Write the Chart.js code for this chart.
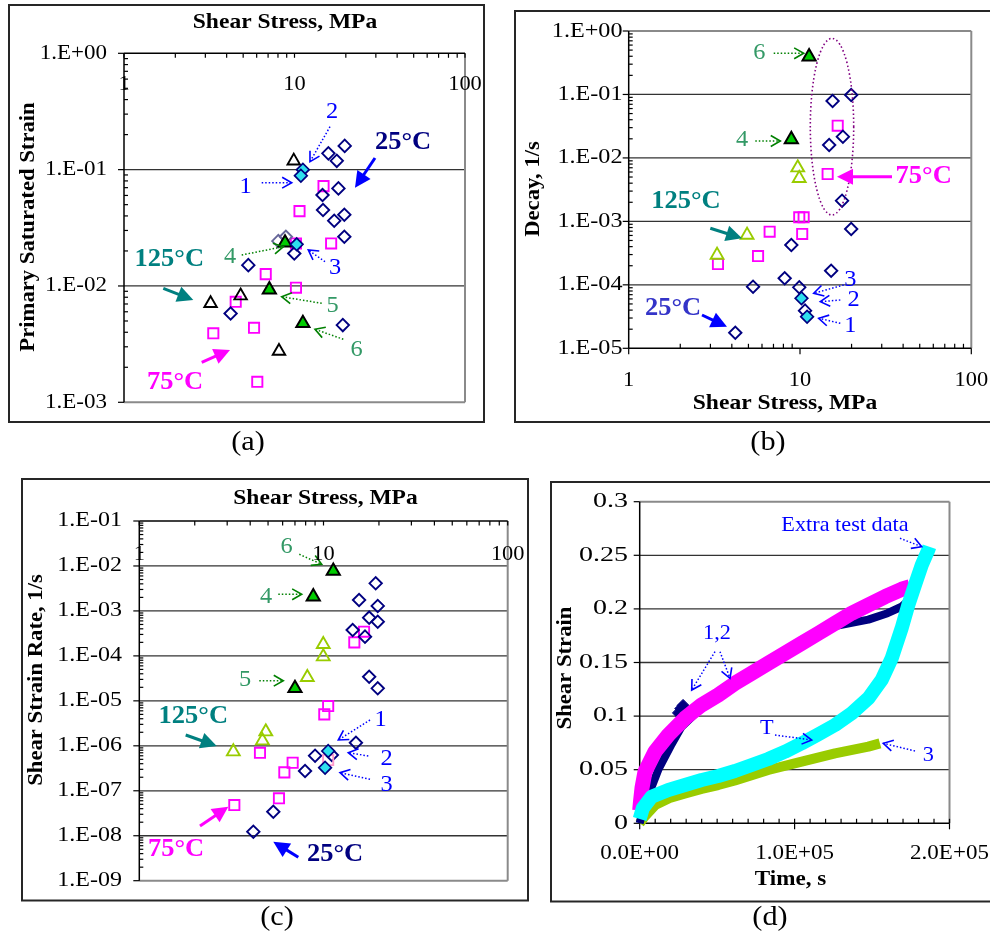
<!DOCTYPE html>
<html><head><meta charset="utf-8">
<script src="https://cdn.jsdelivr.net/npm/chart.js@4.4.1/dist/chart.umd.min.js"></script>
<style>
html,body{margin:0;padding:0;background:#fff;}
body{width:990px;height:938px;position:relative;overflow:hidden;}
canvas{position:absolute;left:0;top:0;}
</style></head><body>
<canvas id="ca" width="990" height="938"></canvas>
<canvas id="cb" width="990" height="938"></canvas>
<canvas id="cc" width="990" height="938"></canvas>
<canvas id="cd" width="990" height="938"></canvas>
<script>
// ---------------- DATA ----------------
// tick labels
const stressTickVals = [1, 10, 100];
const stressTickLabels = ['1', '10', '100'];
const aYTickVals = [1e-3, 1e-2, 1e-1, 1];
const aYTickLabels = ['1.E-03', '1.E-02', '1.E-01', '1.E+00'];
const bYTickVals = [1e-5, 1e-4, 1e-3, 1e-2, 1e-1, 1];
const bYTickLabels = ['1.E-05', '1.E-04', '1.E-03', '1.E-02', '1.E-01', '1.E+00'];
const cYTickVals = [1e-9, 1e-8, 1e-7, 1e-6, 1e-5, 1e-4, 1e-3, 1e-2, 1e-1];
const cYTickLabels = ['1.E-09', '1.E-08', '1.E-07', '1.E-06', '1.E-05', '1.E-04', '1.E-03', '1.E-02', '1.E-01'];
const dYTickVals = [0, 0.05, 0.1, 0.15, 0.2, 0.25, 0.3];
const dYTickLabels = ['0', '0.05', '0.1', '0.15', '0.2', '0.25', '0.3'];
const dXTickVals = [0, 100000, 200000];
const dXTickLabels = ['0.0E+00', '1.0E+05', '2.0E+05'];

// (a) Primary saturated strain vs shear stress
const aNavyX = [15.8, 17.7, 19.7, 14.6, 18.1, 14.7, 19.6, 17.1, 19.6, 9.97, 5.36, 4.22, 19.2];
const aNavyY = [0.138, 0.119, 0.16, 0.0605, 0.069, 0.045, 0.041, 0.0364, 0.0265, 0.019, 0.0151, 0.0058, 0.00461];
const aCyanX = [11.2, 10.9, 10.3];
const aCyanY = [0.1, 0.0887, 0.0228];
const aGrayX = [8.04, 8.9];
const aGrayY = [0.0243, 0.0265];
const aMagX = [14.8, 10.7, 10.2, 16.4, 6.78, 10.2, 4.52, 3.34, 5.79, 6.05];
const aMagY = [0.0722, 0.044, 0.0232, 0.0232, 0.01265, 0.00966, 0.00731, 0.00392, 0.00437, 0.0015];
const aBlackX = [9.9, 4.83, 3.22, 8.11];
const aBlackY = [0.119, 0.00824, 0.00708, 0.00275];
const aGreenX = [8.8, 7.12, 11.2];
const aGreenY = [0.0235, 0.0093, 0.00478];

// (b) Decay vs shear stress
const bNavyX = [15.5, 19.9, 17.8, 14.8, 17.6, 19.9, 8.9, 15.2, 8.14, 9.9, 5.32, 4.19, 10.7];
const bNavyY = [0.0788, 0.098, 0.0216, 0.016, 0.00212, 7.58e-4, 4.24e-4, 1.67e-4, 1.27e-4, 9.14e-5, 9.35e-5, 1.76e-5, 3.92e-5];
const bCyanX = [10.2, 11.0];
const bCyanY = [6.14e-5, 3.15e-5];
const bMagX = [16.6, 14.5, 9.9, 10.5, 10.3, 6.65, 5.69, 3.32];
const bMagY = [0.0322, 0.00558, 1.16e-3, 1.16e-3, 6.33e-4, 6.88e-4, 2.84e-4, 2.13e-4];
const bYgX = [9.7, 9.9, 4.91, 3.28];
const bYgY = [0.00701, 0.00478, 6.1e-4, 2.95e-4];
const bGreenX = [11.3, 8.9];
const bGreenY = [0.394, 0.0196];

// (c) Shear strain rate vs shear stress
const cNavyX = [19.2, 15.6, 19.7, 17.7, 19.7, 14.4, 16.8, 17.7, 19.7, 15.0, 9.0, 11.1, 7.94, 5.34, 4.16];
const cNavyY = [4.11e-3, 1.75e-3, 1.29e-3, 7.08e-4, 5.76e-4, 3.77e-4, 2.68e-4, 3.44e-5, 1.9e-5, 1.17e-6, 6.03e-7, 6.24e-7, 2.75e-7, 3.42e-8, 1.23e-8];
const cCyanX = [10.6, 10.2];
const cCyanY = [7.66e-7, 3.26e-7];
const cPinkX = [10.6];
const cPinkY = [4.83e-7];
const cMagX = [16.6, 14.7, 10.6, 10.1, 4.52, 6.8, 6.13, 5.73, 3.28];
const cMagY = [3.45e-4, 2.0e-4, 7.67e-6, 5.0e-6, 7.0e-7, 4.2e-7, 2.57e-7, 6.8e-8, 4.82e-8];
const cYgX = [9.97, 9.97, 8.17, 4.86, 4.66, 3.24];
const cYgY = [1.81e-4, 9.6e-5, 3.33e-5, 2.06e-6, 1.3e-6, 7.41e-7];
const cGreenX = [11.3, 8.8, 7.0];
const cGreenY = [7.72e-3, 2.07e-3, 1.9e-5];

// (d) Shear strain vs time
const dMagT = [0, 500, 1500, 3400, 9900, 18500, 29200, 40000, 50700, 61500, 72300, 83000, 93800, 104600, 115300, 126100, 136900, 147600, 158400, 169100, 174500];
const dMagS = [0.012, 0.02, 0.033, 0.048, 0.0668, 0.0824, 0.098, 0.1104, 0.1197, 0.1306, 0.140, 0.1493, 0.1586, 0.168, 0.1772, 0.1866, 0.196, 0.2036, 0.2114, 0.2183, 0.2207];
const dNavyT = [0, 2000, 5600, 12000, 20700, 27000, 40000, 61500, 83000, 104600, 126100, 147600, 160000, 169000, 173000];
const dNavyS = [0, 0.012, 0.026, 0.050, 0.074, 0.090, 0.108, 0.128, 0.149, 0.168, 0.184, 0.190, 0.196, 0.202, 0.207];
const dNavyBlobT = [25000, 26500, 28000];
const dNavyBlobS = [0.103, 0.107, 0.110];
const dCyanT = [0, 2000, 7700, 18500, 29200, 40000, 50700, 61500, 72300, 83000, 93800, 104600, 115300, 126100, 136900, 147600, 156200, 162700, 169100, 173400, 177700, 182100, 186300, 187000];
const dCyanS = [0.004, 0.014, 0.0248, 0.0311, 0.0357, 0.0404, 0.0441, 0.0488, 0.0544, 0.06, 0.0668, 0.0746, 0.083, 0.0917, 0.1026, 0.1166, 0.1337, 0.1539, 0.1819, 0.2036, 0.2223, 0.241, 0.255, 0.258];
const dYgT = [0, 3000, 10000, 20000, 30000, 40000, 50700, 61500, 83000, 104600, 126100, 147600, 155100];
const dYgS = [0, 0.006, 0.017, 0.024, 0.028, 0.032, 0.0357, 0.04, 0.0497, 0.0575, 0.0653, 0.0715, 0.0746];

// ---------------- STYLE / HELPERS ----------------
const SERIF = '"Liberation Serif","Times New Roman",Times,serif';
const BLUE = '#0000ff', NAVY = '#000080', TEAL = '#008080', MAG = '#ff00ff', GTXT = '#339966', GARR = '#008000';
const NONE = 'rgba(0,0,0,0)';

function pts(xs, ys) { return xs.map((x, i) => ({x: x, y: ys[i]})); }

function text(ctx, s, x, y, o) {
  o = o || {};
  ctx.save();
  ctx.font = (o.bold ? 'bold ' : '') + (o.size || 20) + 'px ' + SERIF;
  ctx.fillStyle = o.color || '#000';
  ctx.textAlign = o.align || 'center';
  ctx.textBaseline = 'middle';
  ctx.translate(x, y);
  if (o.rot) ctx.rotate(o.rot);
  ctx.scale(o.sx || 1, 1);
  ctx.fillText(s, 0, 0);
  ctx.restore();
}

function arrow(ctx, x1, y1, x2, y2, color, filled) {
  const a = Math.atan2(y2 - y1, x2 - x1);
  const c = Math.cos(a), s = Math.sin(a);
  ctx.save();
  ctx.strokeStyle = color; ctx.fillStyle = color;
  if (filled) {
    const hl = 16, hw = 8;
    const bx = x2 - hl * c, by = y2 - hl * s;
    ctx.lineWidth = 3;
    ctx.beginPath(); ctx.moveTo(x1, y1); ctx.lineTo(bx + c, by + s); ctx.stroke();
    ctx.beginPath(); ctx.moveTo(x2, y2);
    ctx.lineTo(bx - hw * s, by + hw * c);
    ctx.lineTo(bx + hw * s, by - hw * c);
    ctx.closePath(); ctx.fill();
  } else {
    ctx.lineWidth = 1.5;
    ctx.setLineDash([1.5, 2]);
    ctx.beginPath(); ctx.moveTo(x1, y1); ctx.lineTo(x2, y2); ctx.stroke();
    ctx.setLineDash([]);
    const hl = 11, ang = 0.52;
    ctx.lineWidth = 1.6;
    ctx.beginPath();
    ctx.moveTo(x2 - hl * Math.cos(a - ang), y2 - hl * Math.sin(a - ang));
    ctx.lineTo(x2, y2);
    ctx.lineTo(x2 - hl * Math.cos(a + ang), y2 - hl * Math.sin(a + ang));
    ctx.stroke();
  }
  ctx.restore();
}

function line(ctx, x1, y1, x2, y2) { ctx.beginPath(); ctx.moveTo(x1, y1); ctx.lineTo(x2, y2); ctx.stroke(); }

function logMinors(min, max) {
  const out = [];
  for (let e = Math.floor(Math.log10(min) + 1e-9); e < Math.log10(max) - 1e-9; e++) {
    for (let k = 2; k <= 9; k++) out.push(k * Math.pow(10, e));
  }
  return out;
}
function linMinors(min, max, step) {
  const out = [];
  for (let v = min; v <= max + 1e-9; v += step) out.push(v);
  return out;
}

// marker styles
const mk = {
  navy:  {pointStyle: 'rectRot', pointRadius: 6.2, borderColor: NAVY, backgroundColor: NONE, borderWidth: 1.9},
  cyan:  {pointStyle: 'rectRot', pointRadius: 6.3, borderColor: NAVY, backgroundColor: '#2ee0ee', borderWidth: 1.7},
  gray:  {pointStyle: 'rectRot', pointRadius: 6.2, borderColor: '#666699', backgroundColor: NONE, borderWidth: 1.9},
  mag:   {pointStyle: 'rect', pointRadius: 7.2, borderColor: MAG, backgroundColor: NONE, borderWidth: 1.9},
  pink:  {pointStyle: 'rect', pointRadius: 7.2, borderColor: '#ff99cc', backgroundColor: NONE, borderWidth: 1.9},
  black: {pointStyle: 'triangle', pointRadius: 7.2, borderColor: '#000', backgroundColor: NONE, borderWidth: 1.9},
  yg:    {pointStyle: 'triangle', pointRadius: 7.4, borderColor: '#99cc00', backgroundColor: NONE, borderWidth: 1.9},
  green: {pointStyle: 'triangle', pointRadius: 7.6, borderColor: '#000', backgroundColor: '#00cc00', borderWidth: 2}
};
function ds(xs, ys, style) { return Object.assign({data: pts(xs, ys)}, style); }
function band(xs, ys, color, w) {
  return {data: pts(xs, ys), showLine: true, pointRadius: 0, borderColor: color, backgroundColor: color,
          borderWidth: w, tension: 0, clip: false, borderJoinStyle: 'round', borderCapStyle: 'butt'};
}

function makePanel(id, P) {
  const plugin = {
    id: 'panel_' + id,
    beforeDraw(chart) {
      const ctx = chart.ctx;
      ctx.save();
      ctx.strokeStyle = '#262626'; ctx.lineWidth = 2;
      const b = P.box;
      ctx.strokeRect(b[0], b[1], b[2] - b[0], b[3] - b[1]);
      ctx.restore();
    },
    beforeDatasetsDraw(chart) {
      const ctx = chart.ctx, A = chart.chartArea, xs = chart.scales.x, ys = chart.scales.y;
      ctx.save();
      // grid lines
      ctx.strokeStyle = '#333'; ctx.lineWidth = 1.3;
      P.yTicks.vals.forEach(v => {
        const py = ys.getPixelForValue(v);
        if (py > A.top + 2 && py < A.bottom - 2) line(ctx, A.left, py, A.right, py);
      });
      // gray plot borders
      ctx.strokeStyle = '#8a8a8a'; ctx.lineWidth = 2;
      line(ctx, A.right, A.top, A.right, A.bottom);
      if (P.xPos === 'top') line(ctx, A.left, A.bottom, A.right, A.bottom);
      else line(ctx, A.left, A.top, A.right, A.top);
      // axes
      ctx.strokeStyle = '#000'; ctx.lineWidth = 1.5;
      line(ctx, A.left, A.top, A.left, A.bottom);
      const axY = P.xPos === 'top' ? A.top : A.bottom;
      line(ctx, A.left, axY, A.right, axY);
      // y ticks
      ctx.lineWidth = 1.2;
      P.yTicks.vals.forEach(v => { const py = ys.getPixelForValue(v); line(ctx, A.left - 6, py, A.left, py); });
      if (P.yLog) logMinors(ys.min, ys.max).forEach(v => { const py = ys.getPixelForValue(v); line(ctx, A.left, py, A.left + 4, py); });
      // x ticks
      const xMinor = P.xLog ? logMinors(xs.min, xs.max) : linMinors(xs.min, xs.max, P.xMinorStep);
      const dir = P.xPos === 'top' ? 1 : -1;
      xMinor.forEach(v => { const px = xs.getPixelForValue(v); line(ctx, px, axY, px, axY + dir * 4.5); });
      P.xTicks.vals.forEach(v => {
        const px = xs.getPixelForValue(v);
        if (P.xPos === 'top') line(ctx, px, axY, px, axY + 4.5);
        else line(ctx, px, axY, px, axY + 6);
      });
      ctx.restore();
    },
    afterDatasetsDraw(chart) {
      const ctx = chart.ctx, xs = chart.scales.x, ys = chart.scales.y;
      (P.ellipses || []).forEach(e => {
        ctx.save(); ctx.strokeStyle = e.color; ctx.lineWidth = 1.6; ctx.setLineDash([1.5, 2.5]);
        ctx.beginPath(); ctx.ellipse(e.cx, e.cy, e.rx, e.ry, 0, 0, Math.PI * 2); ctx.stroke(); ctx.restore();
      });
      P.arrows.forEach(a => arrow(ctx, a[0], a[1], a[2], a[3], a[4], a[5]));
      P.notes.forEach(n => text(ctx, n.t, n.x, n.y, {color: n.c, bold: n.b, size: n.s || (n.b ? 25 : 23), sx: 1.06}));
      const yl = P.yTicks;
      yl.vals.forEach((v, i) => text(ctx, yl.labels[i], yl.right, ys.getPixelForValue(v), {align: 'right', size: yl.size, sx: yl.sx}));
      const xl = P.xTicks;
      xl.vals.forEach((v, i) => text(ctx, xl.labels[i], xs.getPixelForValue(v), xl.y, {size: xl.size, sx: xl.sx}));
      text(ctx, P.xTitle.t, P.xTitle.x, P.xTitle.y, {bold: true, size: 21, sx: P.xTitle.sx || 1.12});
      text(ctx, P.yTitle.t, P.yTitle.x, P.yTitle.y, {bold: true, size: 21, sx: P.yTitle.sx || 1.08, rot: -Math.PI / 2});
      text(ctx, P.tag.t, P.tag.x, P.tag.y, {size: 28, sx: 1.08});
    }
  };
  const ar = P.area;
  new Chart(document.getElementById(id), {
    type: 'scatter',
    data: {datasets: P.datasets},
    options: {
      responsive: false, animation: false, devicePixelRatio: 1, events: [],
      layout: {padding: {left: ar[0], top: ar[1], right: 990 - ar[2], bottom: 938 - ar[3]}},
      plugins: {legend: {display: false}, tooltip: {enabled: false}, title: {display: false}},
      scales: {
        x: {type: P.xLog ? 'logarithmic' : 'linear', position: P.xPos, min: P.xMin, max: P.xMax,
            grid: {display: false}, border: {display: false}, ticks: {display: false},
            afterFit(s) { s.height = 0; }},
        y: {type: P.yLog ? 'logarithmic' : 'linear', position: 'left', min: P.yMin, max: P.yMax,
            grid: {display: false}, border: {display: false}, ticks: {display: false},
            afterFit(s) { s.width = 0; }}
      }
    },
    plugins: [plugin]
  });
}

// ---------------- PANEL (a) ----------------
makePanel('ca', {
  box: [9, 5, 484, 422], area: [124, 53.3, 465, 402.3],
  xLog: true, yLog: true, xPos: 'top', xMin: 1, xMax: 100, yMin: 1e-3, yMax: 1,
  xTicks: {vals: stressTickVals, labels: stressTickLabels, y: 85, size: 20, sx: 1.12},
  yTicks: {vals: aYTickVals, labels: aYTickLabels, right: 107, size: 20, sx: 1.15},
  xTitle: {t: 'Shear Stress, MPa', x: 285, y: 23},
  yTitle: {t: 'Primary Saturated Strain', x: 28.5, y: 227},
  tag: {t: '(a)', x: 248, y: 443},
  datasets: [
    ds(aCyanX, aCyanY, mk.cyan), ds(aGreenX, aGreenY, mk.green), ds(aBlackX, aBlackY, mk.black),
    ds(aNavyX, aNavyY, mk.navy), ds(aGrayX, aGrayY, mk.gray), ds(aMagX, aMagY, mk.mag)
  ],
  notes: [
    {t: '2', x: 332, y: 112, c: BLUE}, {t: '1', x: 245.7, y: 186.7, c: BLUE},
    {t: '25°C', x: 403, y: 143, c: NAVY, b: true},
    {t: '125°C', x: 169.3, y: 260, c: TEAL, b: true},
    {t: '75°C', x: 175, y: 382.7, c: MAG, b: true},
    {t: '4', x: 230, y: 257.3, c: GTXT}, {t: '3', x: 335, y: 268.3, c: BLUE},
    {t: '5', x: 332.7, y: 306, c: GTXT}, {t: '6', x: 356.7, y: 350, c: GTXT}
  ],
  arrows: [
    [330, 126.7, 310, 161.7, BLUE, false], [261.7, 182.7, 291.7, 182.7, BLUE, false],
    [375, 158, 355, 187.7, BLUE, true], [163.3, 288.3, 193.3, 300, TEAL, true],
    [201.7, 362.3, 230, 350, MAG, true], [241.7, 255, 283.3, 246.7, GARR, false],
    [325, 261.7, 308.3, 250, BLUE, false], [321.7, 303.3, 281.7, 296.7, GARR, false],
    [343.3, 339.3, 315, 329.3, GARR, false]
  ]
});

// ---------------- PANEL (b) ----------------
makePanel('cb', {
  box: [515, 11, 996, 422], area: [628.7, 31, 971.3, 348.3],
  xLog: true, yLog: true, xPos: 'bottom', xMin: 1, xMax: 100, yMin: 1e-5, yMax: 1,
  xTicks: {vals: stressTickVals, labels: stressTickLabels, y: 381, size: 20, sx: 1.12},
  yTicks: {vals: bYTickVals, labels: bYTickLabels, right: 622.5, size: 21, sx: 1.15},
  xTitle: {t: 'Shear Stress, MPa', x: 785, y: 404},
  yTitle: {t: 'Decay, 1/s', x: 534, y: 189},
  tag: {t: '(b)', x: 768, y: 443},
  ellipses: [{cx: 832, cy: 126.7, rx: 21.7, ry: 88.3, color: '#800080'}],
  datasets: [
    ds(bCyanX, bCyanY, mk.cyan), ds(bGreenX, bGreenY, mk.green), ds(bYgX, bYgY, mk.yg),
    ds(bNavyX, bNavyY, mk.navy), ds(bMagX, bMagY, mk.mag)
  ],
  notes: [
    {t: '6', x: 759.3, y: 53.3, c: GTXT}, {t: '4', x: 742, y: 140, c: GTXT},
    {t: '75°C', x: 923.7, y: 176.7, c: MAG, b: true},
    {t: '125°C', x: 686, y: 201.7, c: TEAL, b: true},
    {t: '25°C', x: 673, y: 308.3, c: '#3434c8', b: true},
    {t: '3', x: 850.3, y: 280, c: BLUE}, {t: '2', x: 853.7, y: 300, c: BLUE}, {t: '1', x: 850.3, y: 326, c: BLUE}
  ],
  arrows: [
    [773.7, 53.3, 803.7, 53.3, GARR, false], [755.3, 141, 780.3, 141, GARR, false],
    [892, 176.7, 837, 176.7, MAG, true], [710.3, 228.3, 742, 238.3, TEAL, true],
    [702, 315, 727, 326.7, BLUE, true], [843.7, 285, 813.7, 293.3, BLUE, false],
    [840.3, 300, 820.3, 301.7, BLUE, false], [840.3, 323.3, 818.7, 318.3, BLUE, false]
  ]
});

// ---------------- PANEL (c) ----------------
makePanel('cc', {
  box: [22, 479, 528, 900.5], area: [139.3, 521, 507.7, 880.7],
  xLog: true, yLog: true, xPos: 'top', xMin: 1, xMax: 100, yMin: 1e-9, yMax: 1e-1,
  xTicks: {vals: stressTickVals, labels: stressTickLabels, y: 555, size: 20, sx: 1.12},
  yTicks: {vals: cYTickVals, labels: cYTickLabels, right: 122, size: 20, sx: 1.2},
  xTitle: {t: 'Shear Stress, MPa', x: 325.5, y: 498.3},
  yTitle: {t: 'Shear Strain Rate, 1/s', x: 36.7, y: 680},
  tag: {t: '(c)', x: 277, y: 918},
  datasets: [
    ds(cCyanX, cCyanY, mk.cyan), ds(cPinkX, cPinkY, mk.pink), ds(cGreenX, cGreenY, mk.green),
    ds(cYgX, cYgY, mk.yg), ds(cNavyX, cNavyY, mk.navy), ds(cMagX, cMagY, mk.mag)
  ],
  notes: [
    {t: '6', x: 286.7, y: 546.7, c: GTXT}, {t: '4', x: 266, y: 596.7, c: GTXT}, {t: '5', x: 245, y: 680, c: GTXT},
    {t: '125°C', x: 193.3, y: 716.7, c: TEAL, b: true},
    {t: '1', x: 380.7, y: 720, c: BLUE}, {t: '2', x: 386.7, y: 759.3, c: BLUE}, {t: '3', x: 386.7, y: 785, c: BLUE},
    {t: '75°C', x: 176, y: 850, c: MAG, b: true},
    {t: '25°C', x: 335, y: 855, c: NAVY, b: true}
  ],
  arrows: [
    [299.3, 554.3, 321.7, 564.3, GARR, false], [278.3, 594.3, 301.7, 594.3, GARR, false],
    [259.3, 680.7, 283.3, 680.7, GARR, false], [185.7, 735, 216.7, 746, TEAL, true],
    [370, 720, 338.3, 740, BLUE, false], [368.3, 756, 348.3, 752.7, BLUE, false],
    [370, 779.3, 340, 772.7, BLUE, false], [200, 826, 228.3, 806.7, MAG, true],
    [298.3, 857.3, 273.3, 841.7, BLUE, true]
  ]
});

// ---------------- PANEL (d) ----------------
makePanel('cd', {
  box: [551, 482, 996, 901.5], area: [639.7, 501.7, 949.5, 823.3],
  xLog: false, yLog: false, xPos: 'bottom', xMin: 0, xMax: 200000, yMin: 0, yMax: 0.3, xMinorStep: 10000,
  xTicks: {vals: dXTickVals, labels: dXTickLabels, y: 853.3, size: 20, sx: 1.15},
  yTicks: {vals: dYTickVals, labels: dYTickLabels, right: 628, size: 20, sx: 1.4},
  xTitle: {t: 'Time, s', x: 790.5, y: 880, sx: 1.1},
  yTitle: {t: 'Shear Strain', x: 566, y: 668},
  tag: {t: '(d)', x: 770, y: 918},
  datasets: [
    band(dCyanT, dCyanS, '#00ffff', 14),
    band(dMagT, dMagS, MAG, 15),
    band(dNavyT, dNavyS, NAVY, 8),
    Object.assign({data: pts(dNavyBlobT, dNavyBlobS)}, {pointStyle: 'rectRot', pointRadius: 6, borderColor: NAVY, backgroundColor: NAVY, borderWidth: 1, clip: false}),
    band(dYgT, dYgS, '#99cc00', 10)
  ],
  notes: [
    {t: 'Extra test data', x: 845, y: 525, c: BLUE, s: 21},
    {t: '1,2', x: 717, y: 633.5, c: BLUE, s: 21},
    {t: 'T', x: 766.7, y: 728.3, c: BLUE, s: 21},
    {t: '3', x: 928.3, y: 755, c: BLUE, s: 21}
  ],
  arrows: [
    [900, 538.3, 921.7, 546.7, BLUE, false], [715, 651.7, 691.7, 690, BLUE, false],
    [720, 651.7, 730, 678.3, BLUE, false], [775, 735, 811.7, 740, BLUE, false],
    [915, 751, 883.3, 743.3, BLUE, false]
  ]
});
</script>
</body></html>
